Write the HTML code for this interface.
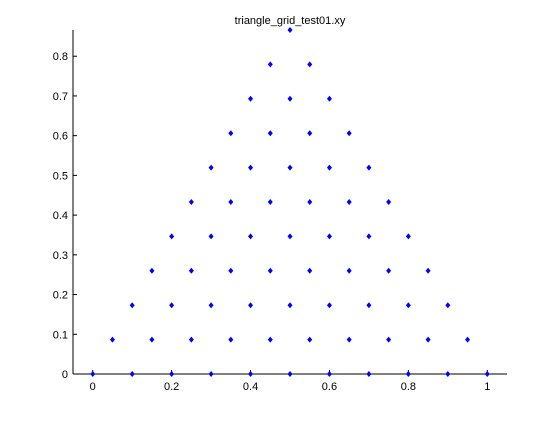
<!DOCTYPE html>
<html><head><meta charset="utf-8"><style>
body{margin:0;background:#fff;}
svg text{font-family:"Liberation Sans",sans-serif;font-size:11px;fill:#000;}
</style></head><body>
<svg width="560" height="420" viewBox="0 0 560 420" xmlns="http://www.w3.org/2000/svg">
<rect width="560" height="420" fill="#fff"/>
<text x="290" y="24" text-anchor="middle">triangle_grid_test01.xy</text>
<g id="axes"></g>
<g id="pts"></g>
</svg>
<script>
const rowY=[0,0.0866,0.1732,0.2598,0.3464,0.4330,0.5196,0.6062,0.6928,0.7794,0.8660];
const rowX=[
[0,0.1,0.2,0.3,0.4,0.5,0.6,0.7,0.8,0.9,1],
[0.05,0.15,0.25,0.35,0.45,0.55,0.65,0.75,0.85,0.95],
[0.1,0.2,0.3,0.4,0.5,0.6,0.7,0.8,0.9],
[0.15,0.25,0.35,0.45,0.55,0.65,0.75,0.85],
[0.2,0.3,0.4,0.5,0.6,0.7,0.8],
[0.25,0.35,0.45,0.55,0.65,0.75],
[0.3,0.4,0.5,0.6,0.7],
[0.35,0.45,0.55,0.65],
[0.4,0.5,0.6],
[0.45,0.55],
[0.5]];
const xTicks=[0,0.2,0.4,0.6,0.8,1];
const xTickLabels=["0","0.2","0.4","0.6","0.8","1"];
const yTicks=[0,0.1,0.2,0.3,0.4,0.5,0.6,0.7,0.8];
const yTickLabels=["0","0.1","0.2","0.3","0.4","0.5","0.6","0.7","0.8"];
const L=73,R=507,T=30,B=374,xmin=-0.05,xmax=1.05,ymin=0,ymax=0.866;
const sx=v=>L+(v-xmin)/(xmax-xmin)*(R-L);
const sy=v=>B-(v-ymin)/(ymax-ymin)*(B-T);
const NS="http://www.w3.org/2000/svg";
const ax=document.getElementById('axes'),pg=document.getElementById('pts');
function mk(t,a,p){const e=document.createElementNS(NS,t);for(const k in a)e.setAttribute(k,a[k]);p.appendChild(e);return e;}
let e=mk('line',{x1:L,y1:T,x2:L,y2:B,stroke:'#000'},ax);


e=mk('line',{x1:L,y1:B,x2:R,y2:B,stroke:'#000'},ax);


xTicks.forEach((v,i)=>{const x=sx(v);
mk('line',{x1:x,y1:B,x2:x,y2:B-4,stroke:'#000'},ax);
const t=mk('text',{x:x,y:B+16,'text-anchor':'middle'},ax);t.textContent=xTickLabels[i];

});
yTicks.forEach((v,i)=>{const y=sy(v);
mk('line',{x1:L,y1:y,x2:L+4,y2:y,stroke:'#000'},ax);
const t=mk('text',{x:L-5,y:y+4,'text-anchor':'end'},ax);t.textContent=yTickLabels[i];

});
rowX.forEach((xs,j)=>xs.forEach(v=>{const x=sx(v),y=sy(rowY[j]);
const p=mk('path',{d:`M${x} ${y-3}L${x+2.5} ${y}L${x} ${y+3}L${x-2.5} ${y}Z`,fill:'#0000ff'},pg);

}));
</script>
</body></html>
